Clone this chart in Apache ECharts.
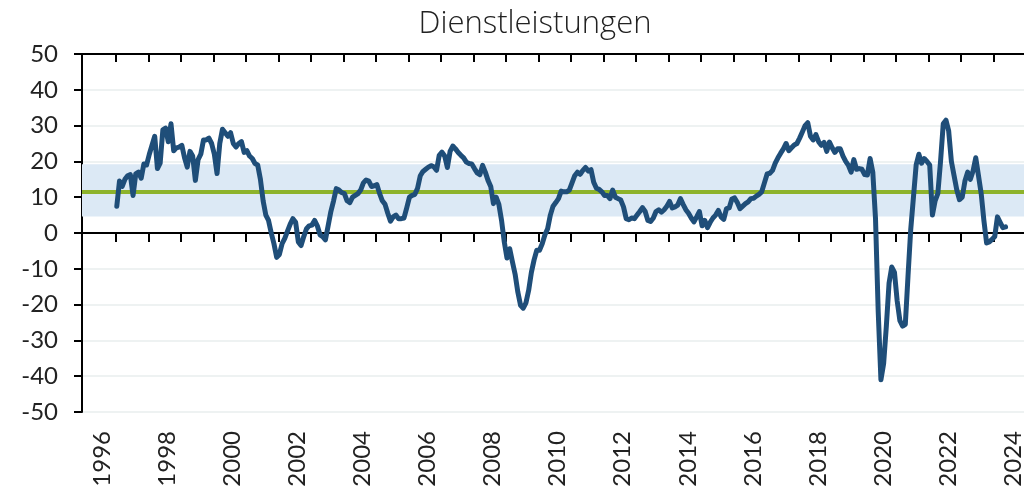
<!DOCTYPE html>
<html>
<head>
<meta charset="utf-8">
<title>Dienstleistungen</title>
<script src="https://cdn.jsdelivr.net/npm/echarts@6/dist/echarts.min.js"></script>
<style>
  html, body { margin: 0; padding: 0; background: #fff; }
  #main { width: 1024px; height: 494px; }
</style>
</head>
<body>
<div id="main"></div>
<script>
// Monatswerte ab Mitte 1996
var START = 1996.44;
var values = [
  7.5, 14.5, 13, 15, 16, 16.3, 10.5, 16.5, 17, 15.3,
  19.3, 19, 22, 24.5, 27, 18, 19.5, 28.8, 29.3, 25.5,
  30.5, 23, 23.8, 24, 24.5, 21, 18.4, 22.8, 21.5, 14.7,
  20.5, 22, 26, 26, 26.5, 25, 22, 16.6, 25, 29,
  28, 27, 28, 25, 24, 25, 25.5, 22.5, 23, 21.5,
  20.8, 19.4, 19, 15, 9, 5, 3.5, 0, -3, -6.8,
  -6, -3, -1.5, 0.5, 2.5, 4, 3, -2.5, -3.5, -1,
  1.2, 2, 2.2, 3.5, 2, -0.5, -1, -1.9, 2, 6,
  9, 12.4, 12, 11.3, 11, 9, 8.5, 10, 10.5, 11,
  12, 14, 14.8, 14.5, 13, 13.2, 13.5, 11, 9, 8,
  5.5, 3.3, 4.5, 5, 4, 4, 4.2, 7, 10, 10.5,
  10.8, 12.5, 16, 17.2, 17.8, 18.4, 18.8, 18.5, 17.5, 21.7,
  22.6, 21.5, 18.3, 22.8, 24.3, 23.5, 22.5, 21.7, 21, 19.8,
  19.4, 19.3, 18, 16.8, 16.3, 18.9, 17, 14.7, 13, 8.2,
  10, 8, 3.5, -2.5, -7, -4.4, -8, -11.5, -16.5, -20.2,
  -21, -19.5, -16, -11, -7.5, -4.8, -4.8, -3, -0.5, 1.2,
  5, 7.5, 8.5, 9.6, 11.7, 11.5, 11.5, 12, 14, 16,
  17, 16.4, 17.5, 18.3, 17.3, 17.7, 14.2, 12.5, 12.2, 11.5,
  10.5, 10.5, 9.6, 12, 10, 9.6, 9.2, 7.3, 4, 3.7,
  4.2, 4, 5, 6, 7.1, 6, 3.5, 3.2, 4.2, 6,
  6.5, 5.8, 6.5, 7.5, 8.8, 7, 7.3, 7.8, 9.6, 8,
  6.5, 5.5, 4.2, 3.1, 4.5, 6, 2, 3.5, 1.5, 3,
  4.2, 5, 6.3, 4.5, 3.8, 6.8, 7, 9.5, 9.8, 8.5,
  6.8, 7.5, 8.2, 8.7, 9.6, 9.7, 10.3, 10.8, 11.5, 14,
  16.5, 16.7, 17.5, 19.5, 21, 22.3, 23.5, 25, 23, 23.8,
  24.6, 25, 26.5, 28.2, 30, 30.8, 27, 26, 27.5, 25.5,
  24.5, 25.3, 22.8, 25.4, 23.8, 22.5, 23.5, 23.5, 21.5, 20,
  18.9, 17, 20.5, 17.8, 18, 17.8, 16.3, 16.2, 20.8, 17,
  4, -22, -41, -36.5, -26, -14, -9.5, -11, -19, -24.5,
  -26, -25.5, -12, 1, 10, 19, 22, 19.5, 20.8, 20,
  19, 5, 9, 11, 20, 30.5, 31.5, 28.5, 20, 16,
  12, 9.3, 10, 14.5, 17, 15, 17.3, 21, 16, 11,
  3.5, -2.8, -2.5, -1.8, -1, 4.5, 3, 1.5, 1.7
];
var bandLow = 4.6, bandHigh = 19.2; // Schwankungsband
var meanValue = 11.4;               // Durchschnitt
var yearLabels = [1996, 1998, 2000, 2002, 2004, 2006, 2008, 2010, 2012, 2014, 2016, 2018, 2020, 2022, 2024];

var yearTicks = [];
for (var k = 0; k < 28; k++) yearTicks.push(1996.41 + k);

var points = values.map(function (v, i) { return [START + i / 12, v]; });

var XMIN = 1995.37, XMAX = 2024.34;
var FONT = 'Lato, "Noto Sans", sans-serif';

var myChart = echarts.init(document.getElementById('main'));
var option = {
  animation: false,
  title: {
    text: 'Dienstleistungen',
    left: 530,
    textAlign: 'center',
    top: 4,
    textStyle: { fontFamily: '"Open Sans", Lato, sans-serif', fontSize: 31, fontWeight: 300, color: '#222' }
  },
  grid: { left: 82, right: 0, top: 54, bottom: 82, containLabel: false, outerBoundsMode: 'none' },
  xAxis: [
    { // Achse bei 0, Striche nach unten
      type: 'value', min: XMIN, max: XMAX,
      axisLine: { onZero: true, lineStyle: { color: '#000', width: 2 } },
      axisTick: { customValues: yearTicks, length: 9, lineStyle: { color: '#000', width: 2 } },
      axisLabel: { show: false },
      splitLine: { show: false }
    },
    { // Striche nach oben
      type: 'value', min: XMIN, max: XMAX,
      axisLine: { onZero: true, lineStyle: { color: '#000', width: 2 } },
      axisTick: { customValues: yearTicks, inside: true, length: 8, lineStyle: { color: '#000', width: 2 } },
      axisLabel: { show: false },
      splitLine: { show: false }
    },
    { // Jahreszahlen unten
      type: 'value', min: XMIN, max: XMAX, position: 'bottom',
      axisLine: { show: false, onZero: false },
      axisTick: { show: false },
      axisLabel: {
        customValues: yearLabels, rotate: 90, margin: 19,
        fontFamily: FONT, fontSize: 24, color: '#222',
        formatter: function (v) { return String(Math.round(v)); }
      },
      splitLine: { show: false }
    }
  ],
  yAxis: {
    type: 'value', min: -50, max: 50, interval: 10,
    axisLine: { show: true, onZero: false, lineStyle: { color: '#000', width: 2 } },
    axisTick: { show: true, length: 8, lineStyle: { color: '#000', width: 2 } },
    axisLabel: { margin: 24, fontFamily: FONT, fontSize: 24, color: '#222' },
    splitLine: { lineStyle: { color: '#eef2f2', width: 2 } }
  },
  series: [
    {
      type: 'line', name: 'band', data: [], z: 1, silent: true,
      markArea: {
        silent: true,
        itemStyle: { color: '#dce9f5' },
        data: [[{ yAxis: bandLow }, { yAxis: bandHigh }]]
      },
      markLine: {
        silent: true, symbol: ['none', 'none'],
        label: { show: false },
        lineStyle: { color: '#8db32b', width: 4, type: 'solid' },
        data: [{ yAxis: meanValue }]
      }
    },
    {
      type: 'line', name: 'Dienstleistungen', data: points, z: 5,
      symbol: 'none',
      lineStyle: { color: '#1f4e79', width: 5, join: 'round', cap: 'round' }
    }
  ]
};
myChart.setOption(option);
</script>
</body>
</html>
